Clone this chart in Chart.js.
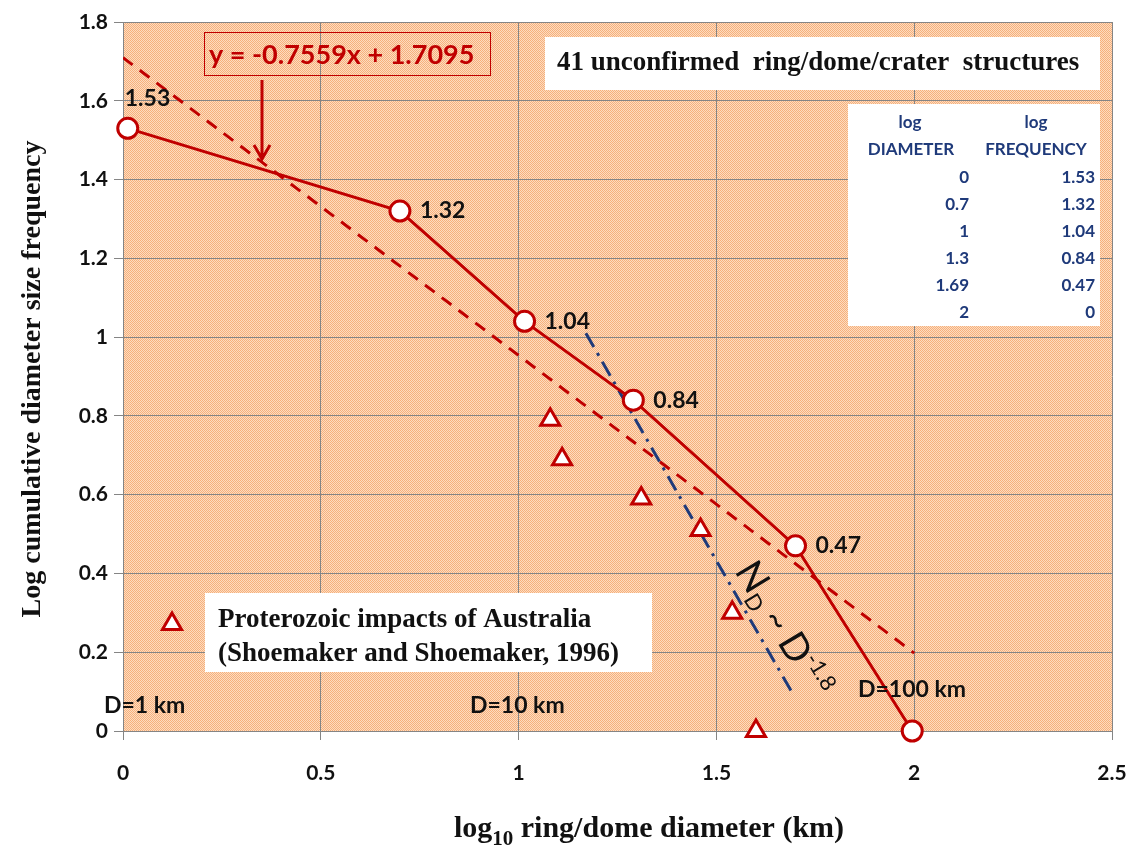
<!DOCTYPE html>
<html lang="en">
<head>
    <meta charset="UTF-8">
    <title>Ring/dome diameter size frequency</title>
    <style>
        body {
            margin: 0;
            background: #ffffff;
        }

        .chart-box {
            width: 1144px;
            height: 851px;
        }
    </style>
</head>
<body>
    <div class="chart-box">
        <canvas id="sizeChart" width="1144" height="851"></canvas>
    </div>
    <script src="https://cdn.jsdelivr.net/npm/chart.js"></script>
    <script>
        // ring/dome structures (log diameter vs log cumulative frequency)
        const diamPlotted = [0.012, 0.7, 1.015, 1.29, 1.70, 1.995];
        const logFreq = [1.53, 1.32, 1.04, 0.84, 0.47, 0];
        const freqLabels = ['1.53', '1.32', '1.04', '0.84', '0.47', ''];

        // table in the top right corner
        const tableDiam = ['0', '0.7', '1', '1.3', '1.69', '2'];
        const tableFreq = ['1.53', '1.32', '1.04', '0.84', '0.47', '0'];

        // linear fit y = -0.7559x + 1.7095
        const trendX = [0, 2];
        const trendY = [1.7095, 0.1977];

        // N_D ~ D^-1.8 guide line
        const powerX = [1.17, 1.69];
        const powerY = [1.01, 0.10];

        // Proterozoic impacts of Australia
        const impactX = [1.08, 1.11, 1.31, 1.46, 1.54, 1.60];
        const impactY = [0.79, 0.69, 0.59, 0.51, 0.30, 0.00];

        const xTickVals = [0, 0.5, 1, 1.5, 2, 2.5];
        const yTickVals = [0, 0.2, 0.4, 0.6, 0.8, 1, 1.2, 1.4, 1.6, 1.8];

        const red = '#C00000';
        const navy = '#1F3A7A';
        const sans = 'Lato, "Open Sans", sans-serif';
        const serif = '"Liberation Serif", "DejaVu Serif", serif';

        const toPoints = (xs, ys) => xs.map((x, i) => ({ x: x, y: ys[i] }));

        // fine orange checker like the Excel fill
        const tile = document.createElement('canvas');
        tile.width = 2;
        tile.height = 2;
        const tctx = tile.getContext('2d');
        tctx.fillStyle = '#FDDCC0';
        tctx.fillRect(0, 0, 2, 2);
        tctx.fillStyle = '#F6B07C';
        tctx.fillRect(0, 0, 1, 1);
        tctx.fillRect(1, 1, 1, 1);

        function triangle(ctx, x, y, r) {
            ctx.beginPath();
            ctx.moveTo(x, y - r);
            ctx.lineTo(x + r * 0.866, y + r * 0.5);
            ctx.lineTo(x - r * 0.866, y + r * 0.5);
            ctx.closePath();
            ctx.fillStyle = '#ffffff';
            ctx.fill();
            ctx.lineWidth = 3;
            ctx.strokeStyle = red;
            ctx.stroke();
        }

        const decor = {
            id: 'decor',
            beforeDraw(chart) {
                const a = chart.chartArea;
                const ctx = chart.ctx;
                ctx.save();
                ctx.fillStyle = ctx.createPattern(tile, 'repeat');
                ctx.fillRect(a.left, a.top, a.right - a.left, a.bottom - a.top);
                ctx.restore();
            },
            afterDatasetsDraw(chart) {
                const ctx = chart.ctx;
                const xs = chart.scales.x;
                const ys = chart.scales.y;
                ctx.save();

                // point labels
                ctx.fillStyle = '#111';
                ctx.font = 'bold 23px ' + sans;
                ctx.textBaseline = 'middle';
                ctx.textAlign = 'left';
                freqLabels.forEach((t, i) => {
                    const px = xs.getPixelForValue(diamPlotted[i]);
                    const py = ys.getPixelForValue(logFreq[i]);
                    if (i === 0) ctx.fillText(t, px - 3, py - 30);
                    else ctx.fillText(t, px + 20, py);
                });

                // D = ... km markers
                ctx.font = 'bold 23px ' + sans;
                ctx.fillText('D=1 km', 104, 706);
                ctx.fillText('D=10 km', 470, 706);
                ctx.fillText('D=100 km', 858, 690);

                // equation box and arrow
                ctx.strokeStyle = red;
                ctx.lineWidth = 1;
                ctx.strokeRect(204.5, 32.5, 286, 43);
                ctx.fillStyle = red;
                ctx.font = 'bold 27px ' + sans;
                ctx.fillText('y = -0.7559x + 1.7095', 209, 55);
                ctx.lineWidth = 3;
                ctx.beginPath();
                ctx.moveTo(262, 80);
                ctx.lineTo(262, 158);
                ctx.moveTo(254, 145);
                ctx.lineTo(262, 159);
                ctx.lineTo(270, 145);
                ctx.stroke();

                // title box
                ctx.fillStyle = '#ffffff';
                ctx.fillRect(545, 37, 555, 53);
                ctx.fillStyle = '#111';
                ctx.font = 'bold 27px ' + serif;
                ctx.fillText('41 unconfirmed  ring/dome/crater  structures', 557, 63);

                // data table
                ctx.fillStyle = '#ffffff';
                ctx.fillRect(848, 104, 252, 222);
                ctx.fillStyle = navy;
                ctx.font = 'bold 17px ' + sans;
                ctx.textAlign = 'center';
                ctx.fillText('log', 910, 123);
                ctx.fillText('log', 1036, 123);
                ctx.fillText('DIAMETER', 911, 150);
                ctx.fillText('FREQUENCY', 1036, 150);
                ctx.textAlign = 'right';
                tableDiam.forEach((t, i) => {
                    ctx.fillText(t, 969, 178 + i * 27);
                    ctx.fillText(tableFreq[i], 1095, 178 + i * 27);
                });

                // legend for the triangles
                ctx.fillStyle = '#ffffff';
                ctx.fillRect(205, 593, 447, 79);
                ctx.fillStyle = '#111';
                ctx.textAlign = 'left';
                ctx.font = 'bold 27px ' + serif;
                ctx.fillText('Proterozoic impacts of Australia', 218, 620);
                ctx.fillText('(Shoemaker and Shoemaker, 1996)', 218, 654);
                triangle(ctx, 172, 624, 11);

                // N_D ~ D^-1.8 along the guide line
                ctx.fillStyle = '#111';
                ctx.translate(734, 571);
                ctx.rotate(59 * Math.PI / 180);
                ctx.textBaseline = 'alphabetic';
                let cx = 0;
                const part = (t, size, dy) => {
                    ctx.font = size + 'px ' + sans;
                    ctx.fillText(t, cx, dy);
                    cx += ctx.measureText(t).width;
                };
                part('N', 38, 0);
                part('D', 22, 7);
                part(' ~ ', 34, 0);
                part('D', 38, 0);
                part('-1.8', 22, -15);
                ctx.restore();

                // axis titles
                ctx.save();
                ctx.fillStyle = '#111';
                ctx.textBaseline = 'alphabetic';
                ctx.font = 'bold 28px ' + serif;
                ctx.translate(40, 379);
                ctx.rotate(-Math.PI / 2);
                ctx.textAlign = 'center';
                ctx.fillText('Log cumulative diameter size frequency', 0, 0);
                ctx.restore();

                ctx.save();
                ctx.fillStyle = '#111';
                ctx.textAlign = 'left';
                const title = ' ring/dome diameter (km)';
                ctx.font = 'bold 30px ' + serif;
                const w1 = ctx.measureText('log').width;
                const w3 = ctx.measureText(title).width;
                ctx.font = 'bold 21px ' + serif;
                const w2 = ctx.measureText('10').width;
                let tx = 649 - (w1 + w2 + w3) / 2;
                ctx.font = 'bold 30px ' + serif;
                ctx.fillText('log', tx, 837);
                ctx.font = 'bold 21px ' + serif;
                ctx.fillText('10', tx + w1, 845);
                ctx.font = 'bold 30px ' + serif;
                ctx.fillText(title, tx + w1 + w2, 837);
                ctx.restore();
            }
        };

        const ctx = document.getElementById('sizeChart').getContext('2d');
        new Chart(ctx, {
            type: 'scatter',
            data: {
                datasets: [{
                    label: 'Ring/dome structures',
                    data: toPoints(diamPlotted, logFreq),
                    showLine: true,
                    borderColor: red,
                    borderWidth: 3,
                    pointRadius: 10,
                    pointBorderWidth: 3,
                    pointBackgroundColor: '#ffffff',
                    pointBorderColor: red,
                    clip: false
                }, {
                    label: 'Proterozoic impacts',
                    data: toPoints(impactX, impactY),
                    pointStyle: 'triangle',
                    pointRadius: 11,
                    pointBorderWidth: 3,
                    pointBackgroundColor: '#ffffff',
                    pointBorderColor: red,
                    clip: false
                }, {
                    label: 'Power law',
                    data: toPoints(powerX, powerY),
                    showLine: true,
                    borderColor: navy,
                    borderWidth: 3,
                    borderDash: [16, 7, 3, 7],
                    pointRadius: 0
                }, {
                    label: 'Linear fit',
                    data: toPoints(trendX, trendY),
                    showLine: true,
                    borderColor: red,
                    borderWidth: 3,
                    borderDash: [12, 9],
                    pointRadius: 0
                }]
            },
            options: {
                responsive: false,
                animation: false,
                layout: {
                    padding: { top: 22, right: 32, left: 0, bottom: 0 }
                },
                plugins: {
                    legend: { display: false },
                    tooltip: { enabled: false }
                },
                scales: {
                    x: {
                        type: 'linear',
                        min: 0,
                        max: 2.5,
                        afterBuildTicks: s => { s.ticks = xTickVals.map(v => ({ value: v })); },
                        afterFit: s => {
                            s.height = 120;
                            s.paddingLeft = 0;
                            s.paddingRight = 0;
                        },
                        grid: { color: '#858585', tickLength: 9 },
                        border: { color: '#858585' },
                        ticks: {
                            color: '#111',
                            padding: 21,
                            font: { family: sans, size: 21, weight: 'bold' },
                            callback: v => String(v)
                        }
                    },
                    y: {
                        type: 'linear',
                        min: 0,
                        max: 1.8,
                        afterBuildTicks: s => { s.ticks = yTickVals.map(v => ({ value: v })); },
                        afterFit: s => { s.width = 123; },
                        grid: { color: '#858585', tickLength: 9 },
                        border: { color: '#858585' },
                        ticks: {
                            color: '#111',
                            padding: 6,
                            font: { family: sans, size: 21, weight: 'bold' },
                            callback: v => String(v)
                        }
                    }
                }
            },
            plugins: [decor]
        });
    </script>
</body>
</html>
